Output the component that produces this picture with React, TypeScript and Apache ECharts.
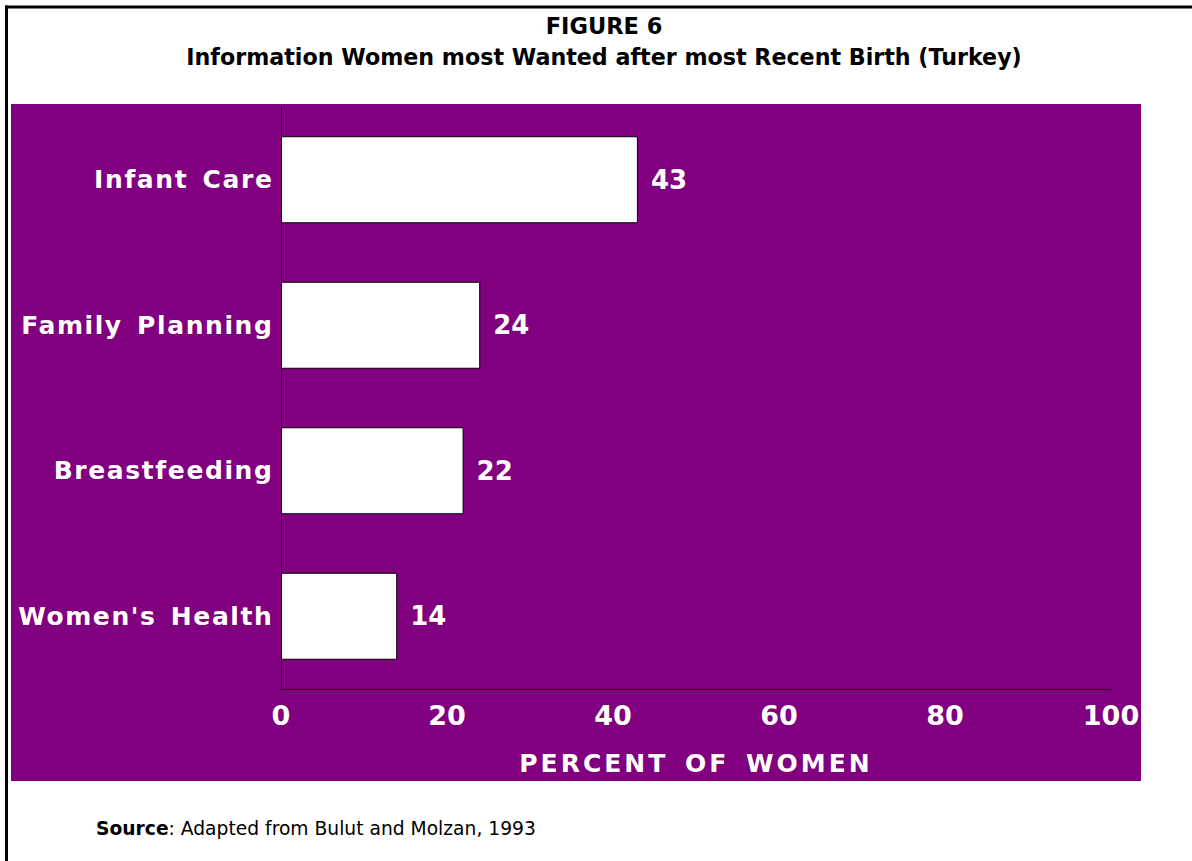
import React, { useEffect, useRef } from "react";
import * as echarts from "echarts";

const titleLine1 = "FIGURE 6";
const titleLine2 = "Information Women most Wanted after most Recent Birth (Turkey)";
const categories = ["Infant Care", "Family Planning", "Breastfeeding", "Women's Health"];
const values = [43, 24, 22, 14];
const axisName = "PERCENT OF WOMEN";
const sourceBold = "Source";
const sourceRest = ": Adapted from Bulut and Molzan, 1993";

const FONT = "'DejaVu Sans', sans-serif";
const PURPLE = "#800080";
const CAT_WHITE = "#fffffe";
const NAME_WHITE = "#fffffd";

const css = `
.fig6 text[fill="${CAT_WHITE}"] { letter-spacing: 1.6px; word-spacing: 4px; }
.fig6 text[fill="${NAME_WHITE}"] { letter-spacing: 3px; word-spacing: 5px; }
`;

export default function App() {
  const ref = useRef<HTMLDivElement>(null);

  useEffect(() => {
    if (!ref.current) return;
    const chart = echarts.init(ref.current, undefined, { renderer: "svg" });
    const option: any = {
      animation: false,
      backgroundColor: "#ffffff",
      graphic: [
        {
          type: "rect",
          z: -10,
          silent: true,
          shape: { x: 11, y: 104, width: 1130, height: 677 },
          style: { fill: PURPLE },
        },
        {
          type: "rect",
          z: 10,
          silent: true,
          shape: { x: 5, y: 5.5, width: 1187, height: 3 },
          style: { fill: "#000" },
        },
        {
          type: "rect",
          z: 10,
          silent: true,
          shape: { x: 5, y: 5.5, width: 3, height: 856 },
          style: { fill: "#000" },
        },
        {
          type: "text",
          x: 604,
          y: 25.5,
          style: {
            text: titleLine1,
            fill: "#000",
            font: `bold 22.5px ${FONT}`,
            align: "center",
            verticalAlign: "middle",
          },
        },
        {
          type: "text",
          x: 604,
          y: 57,
          style: {
            text: titleLine2,
            fill: "#000",
            font: `bold 22.2px ${FONT}`,
            align: "center",
            verticalAlign: "middle",
          },
        },
        {
          type: "text",
          x: 96,
          y: 828,
          style: {
            text: `{b|${sourceBold}}{r|${sourceRest}}`,
            fill: "#000",
            align: "left",
            verticalAlign: "middle",
            rich: {
              b: { fontFamily: FONT, fontWeight: "bold", fontSize: 18.7, fill: "#000" },
              r: { fontFamily: FONT, fontWeight: "normal", fontSize: 18.7, fill: "#000" },
            },
          },
        },
      ],
      grid: { left: 281, right: 81, top: 107, bottom: 172, containLabel: false },
      xAxis: {
        type: "value",
        min: 0,
        max: 100,
        interval: 20,
        axisLine: { show: true, lineStyle: { color: "#1a001a", width: 1 } },
        axisTick: { show: false },
        splitLine: { show: false },
        axisLabel: {
          color: "#ffffff",
          fontFamily: FONT,
          fontWeight: "bold",
          fontSize: 27,
          margin: 13,
        },
        name: axisName,
        nameLocation: "middle",
        nameGap: 62,
        nameTextStyle: {
          color: NAME_WHITE,
          fontFamily: FONT,
          fontWeight: "bold",
          fontSize: 25,
        },
      },
      yAxis: {
        type: "category",
        data: categories,
        inverse: true,
        axisLine: { show: true, lineStyle: { color: "#1a001a", width: 1 } },
        axisTick: { show: false },
        splitLine: { show: false },
        axisLabel: {
          color: CAT_WHITE,
          fontFamily: FONT,
          fontWeight: "bold",
          fontSize: 25,
          margin: 7.5,
        },
      },
      series: [
        {
          type: "bar",
          data: values,
          barWidth: 87,
          itemStyle: { color: "#ffffff", borderColor: "#000000", borderWidth: 1 },
          label: {
            show: true,
            position: "right",
            distance: 13,
            color: "#ffffff",
            fontFamily: FONT,
            fontWeight: "bold",
            fontSize: 26,
          },
        },
      ],
    };
    chart.setOption(option);
    return () => chart.dispose();
  }, []);

  return (
    <>
      <style>{css}</style>
      <div
        ref={ref}
        className="fig6"
        style={{ position: "fixed", left: 0, top: 0, width: 1192, height: 861, background: "#fff" }}
      />
    </>
  );
}
